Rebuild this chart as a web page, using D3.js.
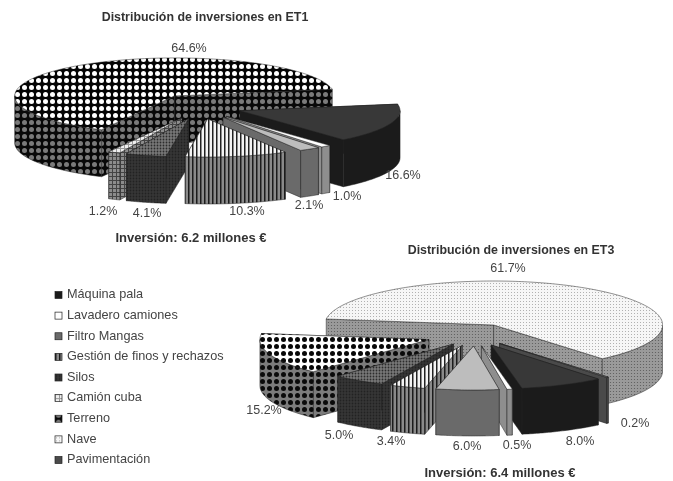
<!DOCTYPE html>
<html>
<head>
<meta charset="utf-8">
<script src="https://cdn.jsdelivr.net/npm/d3@7"></script>
<style>
  html, body { margin: 0; padding: 0; background: #fff; }
  svg { display: block; filter: blur(0.4px); font-family: "Liberation Sans", Arial, sans-serif; }
</style>
</head>
<body>
<svg id="chart" width="673" height="481"></svg>
<script>
// Two exploded 3D pies sharing one legend

var categories = ["Máquina pala", "Lavadero camiones", "Filtro Mangas", "Gestión de finos y rechazos",
  "Silos", "Camión cuba", "Terreno", "Nave", "Pavimentación"];
var valuesET1 = [16.6, 1.0, 2.1, 10.3, 4.1, 1.2, 64.6, 0, 0];
var valuesET3 = [8.0, 0.5, 6.0, 3.4, 5.0, 0, 15.2, 61.7, 0.2];
var labelsET1 = ["16.6%", "1.0%", "2.1%", "10.3%", "4.1%", "1.2%", "64.6%", "", ""];
var labelsET3 = ["8.0%", "0.5%", "6.0%", "3.4%", "5.0%", "", "15.2%", "61.7%", "0.2%"];
var patternKeys = ["maquina", "lavadero", "filtro", "gestion", "silos", "camion", "terreno", "nave", "pavim"];

// pie layout, label anchors are in page pixels
var pieET1 = {
  values: valuesET1, labels: labelsET1, startDeg: 80, terreno: "terreno",
  cx: 200, cy: 106.3, rx: 160, ry: 38, depth: 47, explodeX: 42.6, explodeY: 12.9,
  pull: [1, 1, 1, 1, 1, 1, 1, 1, 1],
  labelAt: [[403, 176], [347, 197], [309, 206], [247, 212], [147, 214], [103, 212], [189, 49]],
  title: "Distribución de inversiones en ET1", titleAt: [205, 18],
  note: "Inversión: 6.2 millones €", noteAt: [191, 239]
};
var pieET3 = {
  values: valuesET3, labels: labelsET3, startDeg: 140.7, terreno: "terreno3",
  cx: 475, cy: 334.8, rx: 169, ry: 44, depth: 46, explodeX: 38.5, explodeY: 11.2,
  pull: [1, 1, 1, 1, 1, 1, 1.27, 1, 1],
  labelAt: [[580, 442], [517, 446], [467, 447], [391, 442], [339, 436], null, [264, 411], [508, 269], [635, 424]],
  title: "Distribución de inversiones en ET3", titleAt: [511, 251],
  note: "Inversión: 6.4 millones €", noteAt: [500, 474]
};

var svg = d3.select("#chart");
var defs = svg.append("defs");

function addPattern(id, size, bg, draw) {
  var p = defs.append("pattern").attr("id", id)
    .attr("patternUnits", "userSpaceOnUse").attr("width", size).attr("height", size);
  p.append("rect").attr("width", size).attr("height", size).attr("fill", bg);
  if (draw) draw(p, size);
}
function dots(color, r) {
  return function (p, s) {
    p.append("circle").attr("cx", s / 2).attr("cy", s / 2).attr("r", r).attr("fill", color);
  };
}
function bars(color, w) {
  return function (p, s) {
    p.append("rect").attr("width", w).attr("height", s).attr("fill", color);
  };
}
function grid(color, w) {
  return function (p, s) {
    p.append("rect").attr("width", w).attr("height", s).attr("fill", color);
    p.append("rect").attr("width", s).attr("height", w).attr("fill", color);
  };
}

addPattern("terreno-top", 7, "#050505", dots("#fff", 2.5));
addPattern("terreno-side", 7, "#080808", dots("#7a7a7a", 2.5));
addPattern("terreno3-top", 7, "#fff", dots("#080808", 2.5));
addPattern("terreno3-side", 7, "#7c7c7c", dots("#0a0a0a", 2.5));
addPattern("nave-top", 3, "#f6f6f6", dots("#9a9a9a", 0.5));
addPattern("nave-side", 3, "#9a9a9a", dots("#5a5a5a", 0.6));
addPattern("gestion-top", 4, "#f4f4f4", bars("#222", 1.5));
addPattern("gestion-side", 4, "#8a8a8a", bars("#1c1c1c", 1.5));
addPattern("silos-top", 3, "#777", dots("#2c2c2c", 0.9));
addPattern("silos-side", 3, "#363636", dots("#222", 0.9));
addPattern("camion-top", 4, "#eee", grid("#999", 1));
addPattern("camion-side", 4, "#8c8c8c", grid("#444", 1));
addPattern("maquina-top", 4, "#383838");
addPattern("maquina-side", 4, "#1b1b1b");
addPattern("lavadero-top", 4, "#fff");
addPattern("lavadero-side", 4, "#8e8e8e");
addPattern("filtro-top", 4, "#bdbdbd");
addPattern("filtro-side", 4, "#6a6a6a");
addPattern("pavim-top", 4, "#777");
addPattern("pavim-side", 4, "#4a4a4a");

var toRad = Math.PI / 180;
var polyline = d3.line();

function drawPie(cfg) {
  var rows = cfg.values.map(function (v, i) { return { value: v, index: i }; })
    .filter(function (d) { return d.value > 0; });
  var pie = d3.pie().sort(null).value(function (d) { return d.value; })
    .startAngle(cfg.startDeg * toRad)
    .endAngle((cfg.startDeg + 360) * toRad);
  var arcs = pie(rows);

  // furthest from the viewer gets painted first
  function frontness(d) {
    return -Math.cos((d.startAngle + d.endAngle) / 2);
  }
  arcs.sort(function (a, b) { return frontness(a) - frontness(b); });

  var g = svg.append("g");

  arcs.forEach(function (d) {
    var key = patternKeys[d.data.index];
    if (key === "terreno") key = cfg.terreno;
    var mid = (d.startAngle + d.endAngle) / 2;
    var pull = cfg.pull[d.data.index];
    var ax = cfg.cx + Math.sin(mid) * cfg.explodeX * pull;
    var ay = cfg.cy - Math.cos(mid) * cfg.explodeY * pull;
    function pt(a, dy) {
      return [ax + cfg.rx * Math.sin(a), ay - cfg.ry * Math.cos(a) + (dy || 0)];
    }
    function shape(path, kind) {
      g.append("path").attr("d", path)
        .attr("fill", "url(#" + key + "-" + kind + ")")
        .attr("stroke", "#222").attr("stroke-width", 0.5).attr("stroke-linejoin", "round");
    }

    // cut faces, the one further back first
    [d.startAngle, d.endAngle]
      .sort(function (a, b) { return pt(a)[1] - pt(b)[1]; })
      .forEach(function (a) {
        shape(polyline([[ax, ay], pt(a), pt(a, cfg.depth), [ax, ay + cfg.depth]]) + "Z", "side");
      });

    // outer wall, only where the rim faces the front
    for (var k = -1; k < 3; k++) {
      var lo = Math.max(d.startAngle, (90 + 360 * k) * toRad);
      var hi = Math.min(d.endAngle, (270 + 360 * k) * toRad);
      if (hi <= lo) continue;
      var steps = d3.range(0, 41).map(function (s) { return lo + (hi - lo) * s / 40; });
      var wall = steps.map(function (a) { return pt(a); })
        .concat(steps.slice().reverse().map(function (a) { return pt(a, cfg.depth); }));
      shape(polyline(wall) + "Z", "side");
    }

    // top surface
    var n = Math.max(6, Math.ceil((d.endAngle - d.startAngle) / toRad));
    var rim = d3.range(0, n + 1).map(function (s) {
      return pt(d.startAngle + (d.endAngle - d.startAngle) * s / n);
    });
    shape(polyline([[ax, ay]].concat(rim)) + "Z", "top");
  });

  // value labels
  cfg.labels.forEach(function (t, i) {
    if (!t) return;
    var pos = cfg.labelAt[i];
    g.append("text").attr("x", pos[0]).attr("y", pos[1])
      .attr("text-anchor", "middle").attr("dominant-baseline", "middle")
      .attr("font-size", 12.5).attr("fill", "#444").text(t);
  });

  g.append("text").attr("x", cfg.titleAt[0]).attr("y", cfg.titleAt[1])
    .attr("text-anchor", "middle").attr("dominant-baseline", "middle")
    .attr("font-size", 12.4).attr("font-weight", "bold").attr("fill", "#333").text(cfg.title);
  g.append("text").attr("x", cfg.noteAt[0]).attr("y", cfg.noteAt[1])
    .attr("text-anchor", "middle").attr("dominant-baseline", "middle")
    .attr("font-size", 13).attr("font-weight", "bold").attr("fill", "#333").text(cfg.note);
}

drawPie(pieET1);
drawPie(pieET3);

// --- Legend ---
var legendY = d3.scalePoint().domain(categories).range([295, 460]);
var legend = svg.append("g").selectAll("g").data(categories).join("g")
  .attr("transform", function (d) { return "translate(55," + legendY(d) + ")"; });
legend.append("rect").attr("x", 0).attr("y", -3.5).attr("width", 7).attr("height", 7)
  .attr("fill", function (d, i) { return "url(#" + patternKeys[i] + (i === 1 || i === 5 || i === 7 ? "-top)" : "-side)"); })
  .attr("stroke", "#222").attr("stroke-width", 0.7);
legend.append("text").attr("x", 12).attr("y", 0).attr("dominant-baseline", "middle")
  .attr("font-size", 12.7).attr("fill", "#444").text(function (d) { return d; });
</script>
</body>
</html>
